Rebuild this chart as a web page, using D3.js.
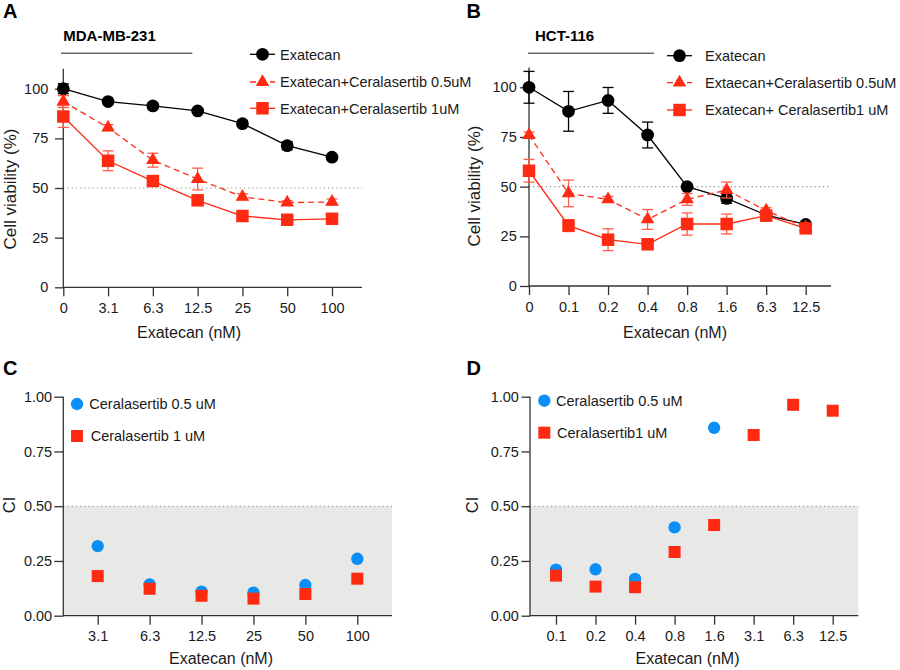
<!DOCTYPE html>
<html><head><meta charset="utf-8">
<script src="https://cdn.jsdelivr.net/npm/d3@7"></script>
<style>body{margin:0;background:#fff;} svg{display:block;font-family:"Liberation Sans",Arial,Helvetica,sans-serif;}</style>
</head><body><svg id="c" width="900" height="670"></svg>
<script>
// ---------- DATA ----------
const aDoses = ["0","3.1","6.3","12.5","25","50","100"];
const aExatecan   = [100, 93.5, 91.3, 88.8, 82.4, 71.3, 65.5];
const aExatecanSD = [2.5, 1, 1.5, 1, 1.5, 2, 1];
const aCer05      = [93.5, 80.4, 64, 54.5, 45.6, 42.6, 43];
const aCer05SD    = [3, 1.5, 3.5, 5.5, 1.5, 1, 1.5];
const aCer1       = [86, 63.7, 53.5, 43.8, 35.9, 34, 34.5];
const aCer1SD     = [5.5, 5, 1, 1, 1, 1, 1];
const aLegend = ["Exatecan", "Exatecan+Ceralasertib 0.5uM", "Exatecan+Ceralasertib 1uM"];

const bDoses = ["0","0.1","0.2","0.4","0.8","1.6","6.3","12.5"];
const bExatecan   = [100, 87.9, 93.4, 76, 50, 44.1, 35.7, 31];
const bExatecanSD = [8, 10, 6.5, 6.5, 1, 2.5, 1, 1];
const bCer05      = [76, 46.6, 43.6, 33.5, 43.6, 48.3, 37.9, 29.5];
const bCer05SD    = [1.5, 6.7, 1.5, 5, 3, 4, 1.5, 1];
const bCer1       = [58, 30.4, 23.3, 21, 31.2, 31.2, 35.4, 29];
const bCer1SD     = [5.7, 3, 5.5, 1, 5.6, 5, 1.5, 1.5];
const bLegend = ["Exatecan", "Extaecan+Ceralasertib 0.5uM", "Exatecan+ Ceralasertib1 uM"];

const viabilityTicks = [0, 25, 50, 75, 100];

const cDoses = ["3.1","6.3","12.5","25","50","100"];
const cCI05 = [0.318, 0.143, 0.11, 0.105, 0.14, 0.26];
const cCI1  = [0.181, 0.123, 0.091, 0.078, 0.099, 0.169];
const cLegend = ["Ceralasertib 0.5 uM", "Ceralasertib 1 uM"];

const dDoses = ["0.1","0.2","0.4","0.8","1.6","3.1","6.3","12.5"];
const dCI05 = [0.21, 0.212, 0.168, 0.403, 0.858, null, null, null];
const dCI1  = [0.183, 0.133, 0.13, 0.291, 0.414, 0.825, 0.963, 0.936];
const dLegend = ["Ceralasertib 0.5 uM", "Ceralasertib1 uM"];

const ciTicks = [0, 0.25, 0.5, 0.75, 1.0];

// ---------- STYLE ----------
const svg = d3.select("#c");
const RED = "#ff2a12", RED_ERR = "#ff5d4a", BLUE = "#0b8ff6", AX = "#333", TXT = "#1a1a1a";
const TICKFS = "14.5px";

function sym(type, size) { return d3.symbol().type(type).size(size)(); }
const SYMS = {
  circle: sym(d3.symbolCircle, 128),
  triangle: sym(d3.symbolTriangle, 80),
  square: sym(d3.symbolSquare, 156)
};

function drawAxes(g, x, y, o) {
  g.append("line").attr("x1", o.ax0).attr("x2", o.axEnd).attr("y1", o.yb).attr("y2", o.yb)
    .attr("stroke", AX).attr("stroke-width", 1.3);
  g.append("line").attr("x1", o.ax0).attr("x2", o.ax0).attr("y1", o.yb + 0.6).attr("y2", o.ytop)
    .attr("stroke", AX).attr("stroke-width", 1.3);
  const xa = g.append("g").attr("transform", `translate(0,${o.yb})`)
    .call(d3.axisBottom(x).tickSize(9).tickPadding(6.5));
  const ya = g.append("g").attr("transform", `translate(${o.ax0},0)`)
    .call(d3.axisLeft(y).tickValues(o.yticks).tickFormat(o.yfmt).tickSize(o.ytickSize).tickPadding(o.ypad));
  [xa, ya].forEach(a => {
    a.select(".domain").remove();
    a.selectAll(".tick line").attr("stroke", AX).attr("stroke-width", 1.3);
    a.selectAll(".tick text").attr("fill", TXT).style("font-size", TICKFS).style("font-family", "inherit");
  });
  g.append("text").attr("x", o.xtitleX).attr("y", o.xtitleY).attr("text-anchor", "middle")
    .attr("fill", TXT).style("font-size", "16px").text("Exatecan (nM)");
  g.append("text").attr("transform", `translate(${o.ytitleX},${o.ytitleY}) rotate(-90)`)
    .attr("text-anchor", "middle").attr("fill", TXT).style("font-size", o.ytitleFS).text(o.ytitle);
  g.append("text").attr("x", o.letterX).attr("y", o.letterY).attr("fill", "#000")
    .style("font-size", "20px").style("font-weight", "bold").text(o.letter);
}

function linePanel(o) {
  const g = svg.append("g");
  const x = d3.scalePoint().domain(o.doses).range([o.x0, o.x1]);
  const y = d3.scaleLinear().domain([0, 100]).range([o.yb, o.yt100]);
  o.ytop = y(110);
  g.append("line").attr("x1", o.ax0).attr("x2", o.axEnd).attr("y1", y(50)).attr("y2", y(50))
    .attr("stroke", "#8a8a8a").attr("stroke-width", 1.1).attr("stroke-dasharray", "1.2,3");
  drawAxes(g, x, y, o);
  g.append("text").attr("x", o.titleX).attr("y", 41).attr("fill", "#000")
    .style("font-size", "15px").style("font-weight", "bold").text(o.title);
  g.append("line").attr("x1", o.tl0).attr("x2", o.tl1).attr("y1", 53.3).attr("y2", 53.3)
    .attr("stroke", "#6a6a6a").attr("stroke-width", 1.6);

  o.series.forEach(s => {
    const sg = g.append("g");
    s.vals.forEach((v, i) => {
      const cx = x(o.doses[i]), sd = s.sd[i];
      const e = sg.append("g").attr("stroke", s.err).attr("stroke-width", 1.3);
      e.append("line").attr("x1", cx).attr("x2", cx).attr("y1", y(v - sd)).attr("y2", y(v + sd));
      [v - sd, v + sd].forEach(ev => e.append("line").attr("x1", cx - 5.5).attr("x2", cx + 5.5)
        .attr("y1", y(ev)).attr("y2", y(ev)));
    });
    sg.append("path").datum(s.vals)
      .attr("d", d3.line().x((d, i) => x(o.doses[i])).y(d => y(d)))
      .attr("fill", "none").attr("stroke", s.color).attr("stroke-width", 1.3)
      .attr("stroke-dasharray", s.dash || null);
    s.vals.forEach((v, i) => {
      sg.append("path").attr("d", SYMS[s.sym])
        .attr("transform", `translate(${x(o.doses[i])},${y(v)})`).attr("fill", s.color);
    });
  });

  o.series.forEach((s, k) => {
    const ly = o.legY[k];
    const lg = g.append("g");
    lg.append("line").attr("x1", o.legX0).attr("x2", o.legX0 + 25).attr("y1", ly).attr("y2", ly)
      .attr("stroke", s.color).attr("stroke-width", 1.3).attr("stroke-dasharray", s.dash || null);
    lg.append("path").attr("d", SYMS[s.sym]).attr("transform", `translate(${o.legX0 + 12.5},${ly})`)
      .attr("fill", s.color);
    lg.append("text").attr("x", o.legTX).attr("y", ly + 5.2).attr("fill", TXT)
      .style("font-size", "14.5px").text(o.legend[k]);
  });
}

function ciPanel(o) {
  const g = svg.append("g");
  const x = d3.scalePoint().domain(o.doses).range([o.x0, o.x1]);
  const y = d3.scaleLinear().domain([0, 1]).range([o.yb, o.yt1]);
  o.ytop = y(1);
  g.append("rect").attr("x", o.ax0).attr("y", y(0.5)).attr("width", o.axEnd - o.ax0)
    .attr("height", y(0) - y(0.5)).attr("fill", "#e8e8e6");
  g.append("line").attr("x1", o.ax0).attr("x2", o.axEnd).attr("y1", y(0.5)).attr("y2", y(0.5))
    .attr("stroke", "#8a8a8a").attr("stroke-width", 1.1).attr("stroke-dasharray", "1.2,3");
  drawAxes(g, x, y, o);
  const circ = sym(d3.symbolCircle, 120), sq = sym(d3.symbolSquare, 144);
  o.ci05.forEach((v, i) => {
    if (v == null) return;
    g.append("path").attr("d", circ).attr("transform", `translate(${x(o.doses[i])},${y(v)})`).attr("fill", BLUE);
  });
  o.ci1.forEach((v, i) => {
    if (v == null) return;
    g.append("path").attr("d", sq).attr("transform", `translate(${x(o.doses[i])},${y(v)})`).attr("fill", RED);
  });
  g.append("path").attr("d", circ).attr("transform", `translate(${o.legX},${o.legY[0]})`).attr("fill", BLUE);
  g.append("path").attr("d", sq).attr("transform", `translate(${o.legX},${o.legY[1]})`).attr("fill", RED);
  o.legend.forEach((t, k) => g.append("text").attr("x", o.legTX[k]).attr("y", o.legY[k] + 5.2)
    .attr("fill", TXT).style("font-size", "14.5px").text(t));
}

const fmt2 = d3.format(".2f");

linePanel({
  doses: aDoses, x0: 63.3, x1: 332, ax0: 63.3, axEnd: 362, yb: 287.3, yt100: 88.7,
  yticks: viabilityTicks, yfmt: d3.format("d"), ytickSize: 8.3, ypad: 6.7,
  xtitleX: 189, xtitleY: 338, ytitleX: 15.5, ytitleY: 189, ytitleFS: "17px", ytitle: "Cell viability (%)",
  letter: "A", letterX: 3, letterY: 17.5,
  title: "MDA-MB-231", titleX: 63.3, tl0: 61, tl1: 192.3,
  legX0: 250, legTX: 280, legY: [54.3, 82, 108.3], legend: aLegend,
  series: [
    {vals: aExatecan, sd: aExatecanSD, color: "#000", err: "#000", sym: "circle"},
    {vals: aCer05, sd: aCer05SD, color: RED, err: RED_ERR, sym: "triangle", dash: "6,4"},
    {vals: aCer1, sd: aCer1SD, color: RED, err: RED_ERR, sym: "square"}
  ]
});

linePanel({
  doses: bDoses, x0: 529, x1: 805.7, ax0: 529, axEnd: 831, yb: 286, yt100: 87.3,
  yticks: viabilityTicks, yfmt: d3.format("d"), ytickSize: 9, ypad: 3.3,
  xtitleX: 675, xtitleY: 338, ytitleX: 480, ytitleY: 186, ytitleFS: "17px", ytitle: "Cell viability (%)",
  letter: "B", letterX: 466.5, letterY: 17.5,
  title: "HCT-116", titleX: 535, tl0: 528, tl1: 654,
  legX0: 667, legTX: 705, legY: [55.7, 82.7, 110], legend: bLegend,
  series: [
    {vals: bExatecan, sd: bExatecanSD, color: "#000", err: "#000", sym: "circle"},
    {vals: bCer05, sd: bCer05SD, color: RED, err: RED_ERR, sym: "triangle", dash: "6,4"},
    {vals: bCer1, sd: bCer1SD, color: RED, err: RED_ERR, sym: "square"}
  ]
});

ciPanel({
  doses: cDoses, x0: 97.7, x1: 357.3, ax0: 63.3, axEnd: 392, yb: 615.7, yt1: 396.7,
  yticks: ciTicks, yfmt: fmt2, ytickSize: 9, ypad: 2.2,
  xtitleX: 221, xtitleY: 663.5, ytitleX: 15, ytitleY: 505, ytitleFS: "16.5px", ytitle: "CI",
  letter: "C", letterX: 3, letterY: 375,
  ci05: cCI05, ci1: cCI1,
  legX: 77, legTX: [89.3, 90.7], legY: [404, 436], legend: cLegend
});

ciPanel({
  doses: dDoses, x0: 556, x1: 832.7, ax0: 530, axEnd: 858.3, yb: 615.7, yt1: 396.7,
  yticks: ciTicks, yfmt: fmt2, ytickSize: 8.5, ypad: 2.6,
  xtitleX: 687.5, xtitleY: 663.5, ytitleX: 478, ytitleY: 505, ytitleFS: "16.5px", ytitle: "CI",
  letter: "D", letterX: 466.5, letterY: 375,
  ci05: dCI05, ci1: dCI1,
  legX: 544.3, legTX: [556, 557], legY: [400.7, 432.7], legend: dLegend
});
</script></body></html>
